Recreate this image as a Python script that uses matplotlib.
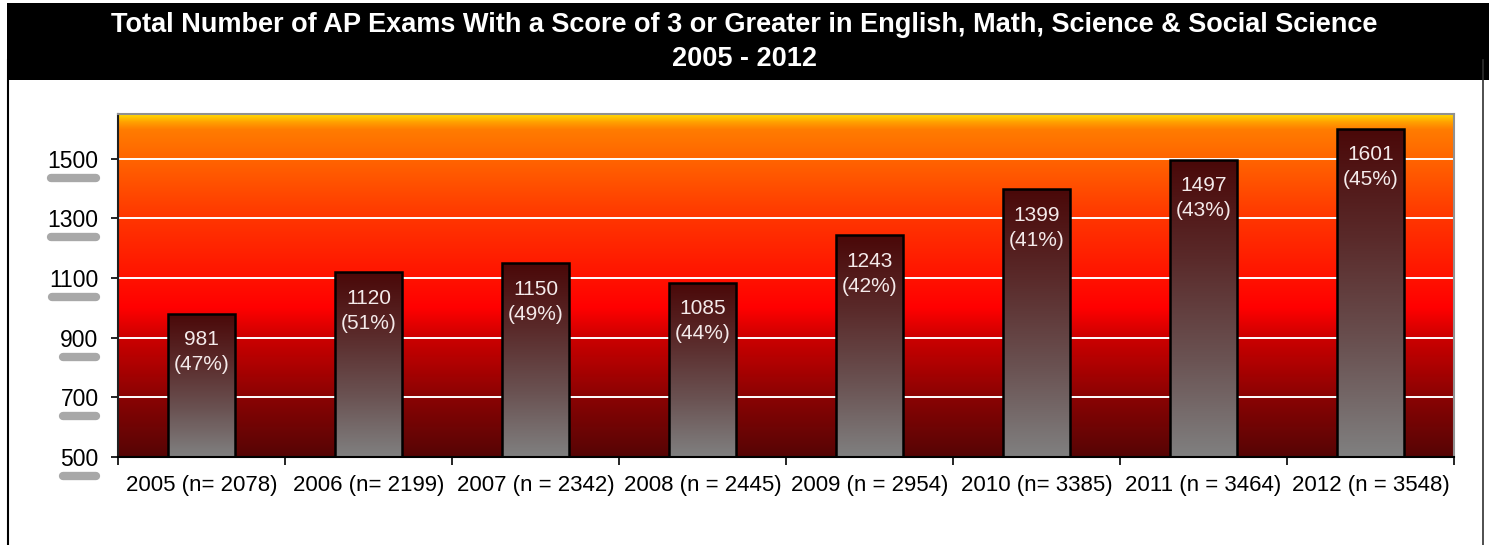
import numpy as np
import matplotlib
matplotlib.use("Agg")
import matplotlib.pyplot as plt
from matplotlib.colors import LinearSegmentedColormap
from matplotlib.lines import Line2D
from matplotlib.patches import Rectangle

plt.rcParams['font.family'] = ['Liberation Sans', 'DejaVu Sans']

# ---------------- data ----------------
categories = ["2005 (n= 2078)", "2006 (n= 2199)", "2007 (n = 2342)", "2008 (n = 2445)",
              "2009 (n = 2954)", "2010 (n= 3385)", "2011 (n = 3464)", "2012 (n = 3548)"]
values = [981, 1120, 1150, 1085, 1243, 1399, 1497, 1601]
percents = ["47%", "51%", "49%", "44%", "42%", "41%", "43%", "45%"]
yticks = [500, 700, 900, 1100, 1300, 1500]
title_line1 = "Total Number of AP Exams With a Score of 3 or Greater in English, Math, Science & Social Science"
title_line2 = "2005 - 2012"
ymin, ymax = 500, 1650

W, H = 1489, 545
fig = plt.figure(figsize=(W / 100, H / 100), dpi=100)
fig.patch.set_facecolor("white")

# title band
fig.add_artist(Rectangle((7 / W, 1 - 80 / H), 1, 77 / H, transform=fig.transFigure,
                         facecolor="black", edgecolor="none", zorder=0))
fig.text(0.5, 1 - 25 / H, title_line1, ha="center", va="center", color="white",
         fontsize=19.5, fontweight="bold")
fig.text(0.5, 1 - 59 / H, title_line2, ha="center", va="center", color="white",
         fontsize=19.5, fontweight="bold")
# frame lines
fig.add_artist(Line2D([8 / W, 8 / W], [0, 1 - 60 / H], transform=fig.transFigure,
                      color="black", lw=1.5))
fig.add_artist(Line2D([1483 / W, 1483 / W], [0, 1 - 60 / H], transform=fig.transFigure,
                      color="#303030", lw=1.2))

left, right, bottom, top = 118, 1454, 457, 114
ax = fig.add_axes([left / W, 1 - bottom / H, (right - left) / W, (bottom - top) / H])

n = len(categories)
x = np.arange(n)
ax.set_xlim(-0.5, n - 0.5)
ax.set_ylim(ymin, ymax)

# background gradient (data-based stops)
bg_stops = [(500, "#560505"), (700, "#8a0303"), (900, "#cc0000"), (1000, "#ff0000"),
            (1100, "#ff1200"), (1300, "#ff3500"), (1500, "#ff6400"), (1600, "#ff7c00"),
            (1625, "#ffa000"), (1650, "#ffd800")]
bg_cmap = LinearSegmentedColormap.from_list(
    "bg", [((v - ymin) / (ymax - ymin), c) for v, c in bg_stops])
grad = np.linspace(0, 1, 512).reshape(-1, 1)
ax.imshow(grad, cmap=bg_cmap, aspect="auto", origin="lower",
          extent=(-0.5, n - 0.5, ymin, ymax), zorder=0, interpolation="bilinear")

# gridlines
for v in yticks[1:]:
    ax.axhline(v, color="white", lw=1.4, zorder=1)

# bars
bar_cmap = LinearSegmentedColormap.from_list("bar", ["#808080", "#6a5252", "#5a2a2a", "#4a0808"])
bars = ax.bar(x, np.array(values) - ymin, bottom=ymin, width=0.4,
              facecolor="none", edgecolor="black", linewidth=1.8, zorder=3)
for b in bars:
    x0, y0 = b.get_x(), b.get_y()
    im = ax.imshow(grad, cmap=bar_cmap, aspect="auto", origin="lower",
                   extent=(x0, x0 + b.get_width(), y0, y0 + b.get_height()),
                   zorder=2, interpolation="bilinear")
    im.set_clip_path(b)

for xi, v, p in zip(x, values, percents):
    ax.annotate(f"{v}\n({p})", xy=(xi, v), xytext=(0, -12), textcoords="offset points",
                ha="center", va="top", color="#f4eaea", fontsize=15, linespacing=1.4,
                zorder=4)

ax.set_xlim(-0.5, n - 0.5)
ax.set_ylim(ymin, ymax)

# axes styling
for s in ["top", "right"]:
    ax.spines[s].set_color("#909090")
    ax.spines[s].set_linewidth(1.5)
ax.spines["left"].set_color("#202020")
ax.spines["left"].set_linewidth(1.5)
ax.spines["bottom"].set_color("black")
ax.spines["bottom"].set_linewidth(1.5)

ax.set_yticks(yticks)
ax.set_yticklabels([str(t) for t in yticks], fontsize=16.5)
ax.tick_params(axis="y", direction="out", length=5, width=1.2, pad=9)

ax.set_xticks(np.arange(n + 1) - 0.5)
ax.set_xticklabels([""] * (n + 1))
ax.set_xticks(x, minor=True)
ax.set_xticklabels(categories, minor=True, fontsize=16)
ax.tick_params(axis="x", which="major", direction="out", length=6, width=1.2)
ax.tick_params(axis="x", which="minor", length=0, pad=13)

# gray shadow bars under y tick labels
fig.canvas.draw()
renderer = fig.canvas.get_renderer()
for lab in ax.get_yticklabels():
    bb = lab.get_window_extent(renderer)
    ypix = bb.y0 - 5
    fig.add_artist(Line2D([(bb.x0 + 3) / W, (bb.x1 - 3) / W], [ypix / H, ypix / H],
                          transform=fig.transFigure, color="#a8a8a8", lw=6,
                          solid_capstyle="round", zorder=0))

fig.savefig("out.png", dpi=100)
